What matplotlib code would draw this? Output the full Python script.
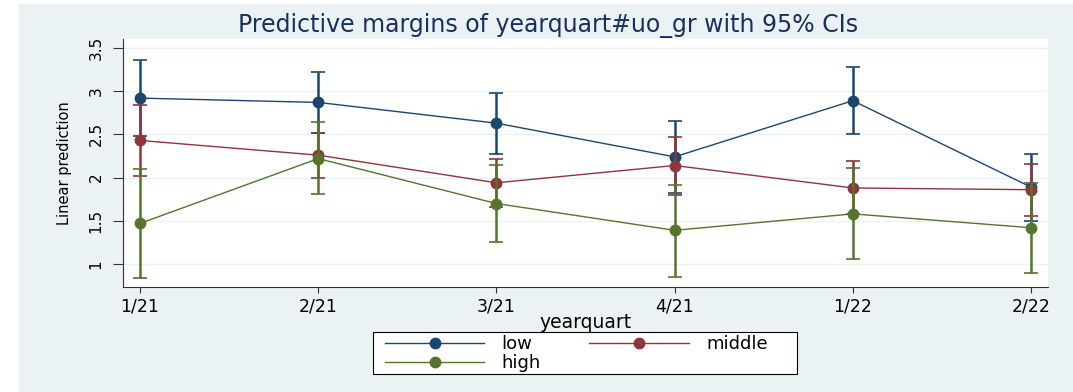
import numpy as np
import matplotlib
matplotlib.use("Agg")
import matplotlib.pyplot as plt
from matplotlib.patches import Rectangle

# quarters on the x axis
quarters = ["1/21", "2/21", "3/21", "4/21", "1/22", "2/22"]

# predictive margins
low = [2.92, 2.87, 2.63, 2.24, 2.89, 1.89]
low_lo = [2.48, 2.52, 2.27, 1.82, 2.51, 1.50]
low_hi = [3.36, 3.22, 2.98, 2.65, 3.28, 2.27]

middle = [2.43, 2.26, 1.94, 2.14, 1.88, 1.86]
middle_lo = [2.02, 2.00, 1.66, 1.80, 1.58, 1.56]
middle_hi = [2.84, 2.52, 2.21, 2.47, 2.19, 2.16]

high = [1.47, 2.22, 1.70, 1.39, 1.58, 1.42]
high_lo = [0.84, 1.81, 1.25, 0.85, 1.06, 0.90]
high_hi = [2.10, 2.64, 2.15, 1.92, 2.11, 1.94]

series = [
    ("low", low, low_lo, low_hi, "#1a476f"),
    ("middle", middle, middle_lo, middle_hi, "#90353b"),
    ("high", high, high_lo, high_hi, "#55752f"),
]

bg = "#eaf2f3"
W, H = 1073, 392

fig = plt.figure(figsize=(10.73, 3.92), dpi=100)
fig.patch.set_facecolor("white")
fig.patches.append(Rectangle((19 / W, 0), 1 - 19 / W, 1 - 4 / H,
                             transform=fig.transFigure, color=bg, zorder=-10))

ax = fig.add_axes([123 / W, 1 - 287 / H, 925 / W, 248 / H])
ax.set_facecolor("white")

x = np.arange(len(quarters))
handles = {}
for name, vals, lo, hi, col in series:
    vals = np.array(vals)
    err = [vals - np.array(lo), np.array(hi) - vals]
    ax.errorbar(x, vals, yerr=err, fmt="none", ecolor=col, elinewidth=1.8,
                capsize=5, capthick=1.2)
    handles[name], = ax.plot(x, vals, color=col, lw=1, marker="o", ms=7.5, label=name)

ax.set_xlim(-0.0955, 5.0955)
ax.set_ylim(0.734, 3.604)
ax.set_xticks(x)
ax.set_xticklabels(quarters, fontsize=12.5)
ax.set_yticks([1, 1.5, 2, 2.5, 3, 3.5])
ax.set_yticklabels(["1", "1.5", "2", "2.5", "3", "3.5"], rotation=90,
                   va="center", fontsize=11)
ax.grid(axis="y", color=bg, lw=1)
ax.set_axisbelow(True)
for s in ["top", "right"]:
    ax.spines[s].set_visible(False)
for s in ["left", "bottom"]:
    ax.spines[s].set_color("#333333")
ax.tick_params(axis="x", length=4.5, color="#333333", pad=3)
ax.tick_params(axis="y", length=7, color="#333333", pad=7)

ax.set_xlabel("yearquart", fontsize=13.5, labelpad=-2)
ax.set_ylabel("Linear prediction", fontsize=10.5)
ax.yaxis.set_label_coords(-0.055, 0.5)
fig.text(0.511, 0.935, "Predictive margins of yearquart#uo_gr with 95% CIs",
         ha="center", va="center", fontsize=17, color="#1a2f5f")

# legend box drawn separately so the entries can sit where Stata puts them
fig.patches.append(Rectangle((373 / W, 1 - 374 / H), 424 / W, 42 / H,
                             transform=fig.transFigure, facecolor="white",
                             edgecolor="black", lw=0.8, zorder=1))
order = ["low", "high", "middle"]
leg = fig.legend([handles[k] for k in order], order,
                 loc="upper left", bbox_to_anchor=(385 / W, 1 - 335 / H),
                 ncol=2, fontsize=13, handlelength=5.5, frameon=False,
                 borderaxespad=0, borderpad=0, labelspacing=0.05,
                 handletextpad=0.95, columnspacing=2.7)
leg.set_zorder(2)

fig.savefig("out.png", dpi=100, facecolor=fig.get_facecolor())
